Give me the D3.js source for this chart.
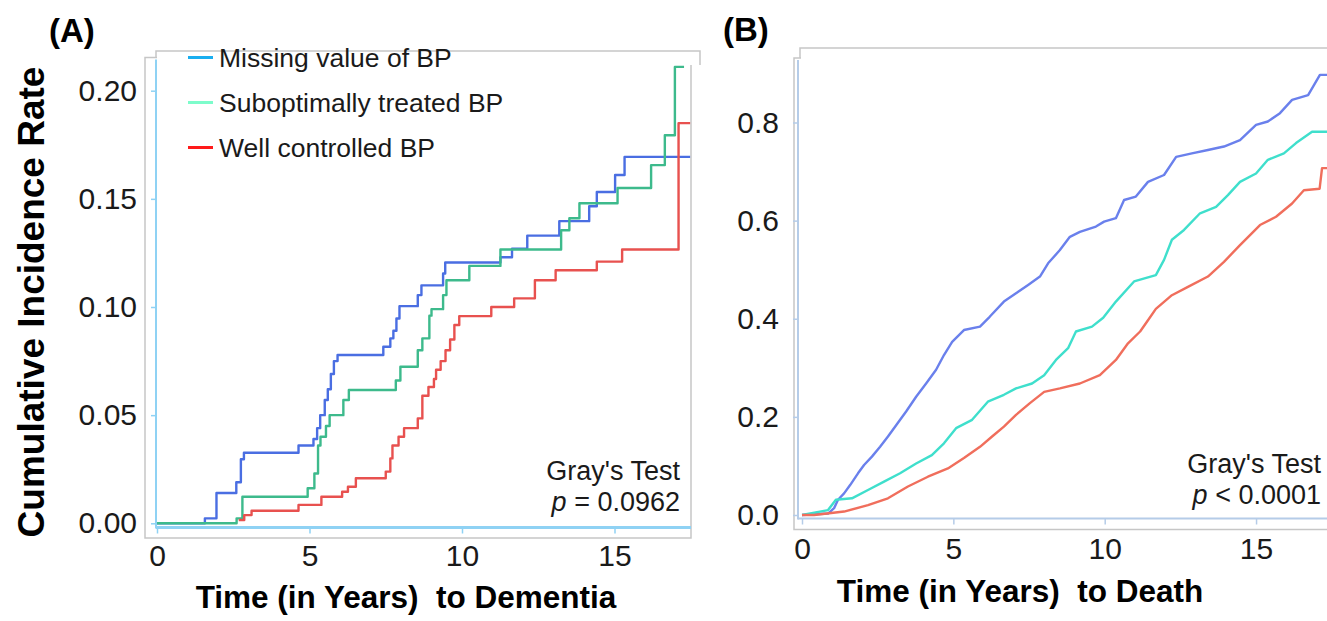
<!DOCTYPE html>
<html lang="en">
<head>
  <meta charset="UTF-8">
  <title>Cumulative incidence of dementia and death by BP group</title>
  <style>
    body { margin: 0; background: #fff; }
    svg { display: block; font-family: "Liberation Sans", Arial, sans-serif; }
    .tick text { fill: #1a1a1a; font-size: 30px; }
    .title { font-weight: bold; fill: #000; white-space: pre; }
  </style>
</head>
<body>
  <script src="https://d3js.org/d3.v7.min.js"></script>
  <script>
    // ---- data: [years, cumulative incidence] ----
    const legendLabels = ['Missing value of BP', 'Suboptimally treated BP', 'Well controlled BP'];
    const legendColors = ['#19aef0', '#7dfccb', '#ff1a1a'];

    // (A) time to dementia
    const dementiaXTicks = [0, 5, 10, 15];
    const dementiaYTicks = [0, 0.05, 0.10, 0.15, 0.20];
    const dementiaMissing = [[0, 0], [1.57, 0.0023], [1.95, 0.014], [2.6, 0.019], [2.75, 0.0296], [2.85, 0.0326],
      [4.64, 0.036], [5.13, 0.039], [5.25, 0.044], [5.35, 0.050], [5.5, 0.057], [5.6, 0.062], [5.7, 0.069],
      [5.8, 0.075], [5.92, 0.0778], [7.42, 0.0816], [7.65, 0.0855], [7.75, 0.089], [7.85, 0.0947], [7.95, 0.1004],
      [8.55, 0.1055], [8.67, 0.110], [9.38, 0.1155], [9.45, 0.1206], [11.26, 0.123], [11.64, 0.127], [12.14, 0.133],
      [13.19, 0.1397], [14.17, 0.1466], [14.42, 0.1532], [15.02, 0.161], [15.33, 0.1694], [17.48, 0.1694]];
    const dementiaSubopt = [[0, 0], [2.61, 0.0023], [2.8, 0.0123], [4.94, 0.0162], [5.16, 0.023], [5.28, 0.036],
      [5.36, 0.040], [5.54, 0.045], [5.66, 0.050], [6.11, 0.057], [6.29, 0.0616], [7.83, 0.066], [7.98, 0.0724],
      [8.55, 0.080], [8.7, 0.0855], [8.93, 0.096], [9.0, 0.099], [9.38, 0.1055], [9.49, 0.1124], [10.24, 0.119],
      [11.26, 0.1266], [13.25, 0.1355], [13.52, 0.141], [13.85, 0.148], [15.1, 0.155], [16.2, 0.1656],
      [16.65, 0.1794], [16.98, 0.211], [17.28, 0.211]];
    const dementiaWell = [[2.68, 0.0015], [2.86, 0.0038], [3.1, 0.0058], [4.64, 0.0085], [5.39, 0.0123],
      [6.07, 0.0146], [6.26, 0.0169], [6.52, 0.0208], [7.5, 0.0239], [7.65, 0.030], [7.72, 0.036], [7.92, 0.040],
      [8.1, 0.044], [8.55, 0.0485], [8.7, 0.059], [8.9, 0.063], [9.08, 0.0667], [9.15, 0.071], [9.3, 0.075],
      [9.46, 0.080], [9.61, 0.085], [9.75, 0.0917], [9.91, 0.0958], [10.96, 0.100], [11.71, 0.104], [12.39, 0.1124],
      [13.07, 0.117], [14.42, 0.121], [15.25, 0.1266], [17.1, 0.185], [17.48, 0.185]];

    // (B) time to death
    const deathXTicks = [0, 5, 10, 15];
    const deathYTicks = [0, 0.2, 0.4, 0.6, 0.8];
    const deathMissing = [[0, 0], [0.86, 0.003], [1.06, 0.014], [1.19, 0.031], [1.39, 0.044], [1.59, 0.061],
      [1.85, 0.085], [2.05, 0.102], [2.31, 0.119], [2.58, 0.139], [2.84, 0.160], [3.11, 0.183], [3.44, 0.211],
      [3.77, 0.241], [4.1, 0.268], [4.43, 0.296], [4.69, 0.326], [4.96, 0.353], [5.35, 0.377], [5.88, 0.384],
      [6.2, 0.404], [6.67, 0.435], [7.07, 0.452], [7.47, 0.469], [7.86, 0.486], [8.13, 0.513], [8.52, 0.540],
      [8.85, 0.567], [9.18, 0.577], [9.71, 0.588], [9.98, 0.598], [10.37, 0.605], [10.64, 0.642], [11.03, 0.649],
      [11.43, 0.679], [11.96, 0.693], [12.36, 0.730], [12.88, 0.737], [13.41, 0.744], [13.94, 0.751],
      [14.47, 0.764], [15.0, 0.795], [15.39, 0.802], [15.79, 0.819], [16.19, 0.846], [16.72, 0.856],
      [17.11, 0.897], [17.6, 0.897]];
    const deathSubopt = [[0, 0], [0.86, 0.010], [1.12, 0.031], [1.65, 0.034], [2.18, 0.051], [2.71, 0.068],
      [3.24, 0.085], [3.77, 0.105], [4.29, 0.122], [4.69, 0.146], [5.09, 0.177], [5.62, 0.194], [6.14, 0.231],
      [6.67, 0.245], [7.07, 0.258], [7.6, 0.268], [8.0, 0.285], [8.39, 0.316], [8.79, 0.340], [9.05, 0.374],
      [9.58, 0.384], [9.95, 0.402], [10.37, 0.435], [10.97, 0.476], [11.69, 0.489], [11.96, 0.520], [12.22, 0.561],
      [12.62, 0.581], [13.15, 0.615], [13.68, 0.628], [14.07, 0.652], [14.47, 0.679], [15.0, 0.696],
      [15.39, 0.724], [15.92, 0.737], [16.32, 0.758], [16.85, 0.781], [17.6, 0.781]];
    const deathWell = [[0, 0], [0.4, 0.0], [1.39, 0.007], [2.18, 0.020], [2.84, 0.034], [3.5, 0.058], [4.16, 0.078],
      [4.82, 0.095], [5.35, 0.116], [5.88, 0.139], [6.28, 0.160], [6.67, 0.180], [7.07, 0.204], [7.53, 0.228],
      [8.0, 0.251], [8.52, 0.258], [9.18, 0.268], [9.84, 0.285], [10.37, 0.316], [10.77, 0.350], [11.17, 0.374],
      [11.43, 0.397], [11.69, 0.420], [12.22, 0.448], [12.75, 0.465], [13.41, 0.486], [13.94, 0.516],
      [14.47, 0.550], [15.13, 0.591], [15.66, 0.608], [16.19, 0.635], [16.58, 0.662], [17.1, 0.665],
      [17.18, 0.707], [17.6, 0.707]];

    const width = 1327, height = 621;

    const svg = d3.select('body')
      .append('svg')
      .attr('width', width)
      .attr('height', height);

    function drawPanel(p) {
      const x = d3.scaleLinear().domain([0, 17.5]).range(p.xRange);
      const y = d3.scaleLinear().domain(p.yDomain).range(p.yRange);
      const g = svg.append('g');

      // outer frame
      g.append('rect')
        .attr('x', p.frame[0]).attr('y', p.frame[1])
        .attr('width', p.frame[2] - p.frame[0]).attr('height', p.frame[3] - p.frame[1])
        .attr('fill', 'none').attr('stroke', '#c6c6c6').attr('stroke-width', 1.5);

      // legend box sitting over the top of the frame
      g.append('rect')
        .attr('x', p.legendBox[0] + 1).attr('y', p.legendBox[1] + 1)
        .attr('width', p.legendBox[2] - p.legendBox[0] - 1).attr('height', p.legendBox[3] - p.legendBox[1] - 1)
        .attr('fill', '#fff');
      g.append('path')
        .attr('d', `M${p.legendBox[0]},${p.frame[1]}V${p.legendBox[1]}H${p.legendBox[2]}V${p.legendBox[3]}`)
        .attr('fill', 'none').attr('stroke', '#c6c6c6').attr('stroke-width', 1.5);

      // axes
      const yAxis = d3.axisLeft(y).tickValues(p.yTicks).tickSize(5).tickPadding(14)
        .tickFormat(d3.format(p.yFormat));
      g.append('g')
        .attr('transform', `translate(${p.axisX},0)`)
        .call(yAxis)
        .call(a => a.select('.domain').remove())
        .attr('font-family', null).attr('font-size', null)
        .selectAll('line').attr('stroke', p.axisColor).attr('stroke-width', 1.5);

      const xAxis = d3.axisBottom(x).tickValues(p.xTicks).tickSize(6).tickPadding(p.xPad);
      g.append('g')
        .attr('transform', `translate(0,${p.axisY})`)
        .call(xAxis)
        .call(a => a.select('.domain').remove())
        .attr('font-family', null).attr('font-size', null)
        .selectAll('line').attr('stroke', p.axisColor).attr('stroke-width', 1.5);

      g.append('line')
        .attr('x1', p.axisX).attr('x2', p.axisX)
        .attr('y1', p.frame[1] + 2).attr('y2', p.axisY + 1)
        .attr('stroke', p.axisColor).attr('stroke-width', 2);
      g.append('line')
        .attr('x1', p.axisX).attr('x2', p.frame[2])
        .attr('y1', p.axisY).attr('y2', p.axisY)
        .attr('stroke', p.axisColor).attr('stroke-width', p.axisWidth);

      // curves
      const line = d3.line()
        .x(d => x(d[0]))
        .y(d => y(d[1]))
        .curve(p.curve);
      p.series.forEach((s, i) => {
        g.append('path')
          .datum(s)
          .attr('d', line)
          .attr('fill', 'none')
          .attr('stroke', p.colors[i])
          .attr('stroke-width', 2.4)
          .attr('stroke-linejoin', 'round');
      });

      // panel letter
      g.append('text')
        .attr('class', 'title')
        .attr('x', p.letterPos[0]).attr('y', p.letterPos[1])
        .attr('font-size', 33)
        .text(p.letter);

      // x axis title
      g.append('text')
        .attr('class', 'title')
        .attr('x', p.xTitlePos[0]).attr('y', p.xTitlePos[1])
        .attr('text-anchor', 'middle')
        .attr('font-size', 31.5)
        .text(p.xTitle);

      // Gray's test
      const stat = g.append('g').attr('font-size', 27).attr('fill', '#1a1a1a').attr('text-anchor', 'end');
      stat.append('text')
        .attr('x', p.statPos[0]).attr('y', p.statPos[1])
        .text("Gray's Test");
      const pv = stat.append('text')
        .attr('x', p.statPos[0]).attr('y', p.statPos[1] + 31);
      pv.append('tspan').attr('font-style', 'italic').text('p');
      pv.append('tspan').text(p.pText);
    }

    drawPanel({
      letter: '(A)', letterPos: [49, 41.5],
      xRange: [157, 157 + 17.5 * 30.5], yDomain: [0, 0.2], yRange: [523.3, 90.7],
      xTicks: dementiaXTicks, yTicks: dementiaYTicks, yFormat: '.2f', xPad: 11,
      frame: [145, 57.5, 691, 538], legendBox: [156, 51, 700, 65],
      axisX: 156, axisY: 527.5, axisColor: '#8fd2f4', axisWidth: 3,
      series: [dementiaMissing, dementiaSubopt, dementiaWell],
      colors: ['#4a6ee2', '#3dba8c', '#e8514f'],
      curve: d3.curveStepAfter,
      xTitle: 'Time (in Years)  to Dementia', xTitlePos: [406, 608],
      statPos: [680, 480], pText: ' = 0.0962'
    });

    drawPanel({
      letter: '(B)', letterPos: [723, 40.5],
      xRange: [802, 802 + 17.5 * 30.27], yDomain: [0, 0.8], yRange: [515, 122.5],
      xTicks: deathXTicks, yTicks: deathYTicks, yFormat: '.1f', xPad: 13,
      frame: [794, 58, 1340, 529.5], legendBox: [800, 48, 1340, 60],
      axisX: 798, axisY: 518.5, axisColor: '#b5cce8', axisWidth: 2,
      series: [deathMissing, deathSubopt, deathWell],
      colors: ['#6a80ec', '#3fdfcc', '#f06e5c'],
      curve: d3.curveLinear,
      xTitle: 'Time (in Years)  to Death', xTitlePos: [1020, 602],
      statPos: [1321, 473], pText: ' < 0.0001'
    });

    // y axis title (panel A)
    svg.append('text')
      .attr('class', 'title')
      .attr('transform', 'translate(44,302) rotate(-90)')
      .attr('text-anchor', 'middle')
      .attr('font-size', 37)
      .text('Cumulative Incidence Rate');

    // legend (panel A)
    const legend = svg.append('g');
    legendLabels.forEach((label, i) => {
      const ly = 57.5 + i * 45;
      legend.append('line')
        .attr('x1', 188).attr('x2', 213)
        .attr('y1', ly).attr('y2', ly)
        .attr('stroke', legendColors[i]).attr('stroke-width', 3);
      legend.append('text')
        .attr('x', 219).attr('y', ly + 9.5)
        .attr('font-size', 26.5)
        .attr('fill', '#1a1a1a')
        .text(label);
    });
  </script>
</body>
</html>
